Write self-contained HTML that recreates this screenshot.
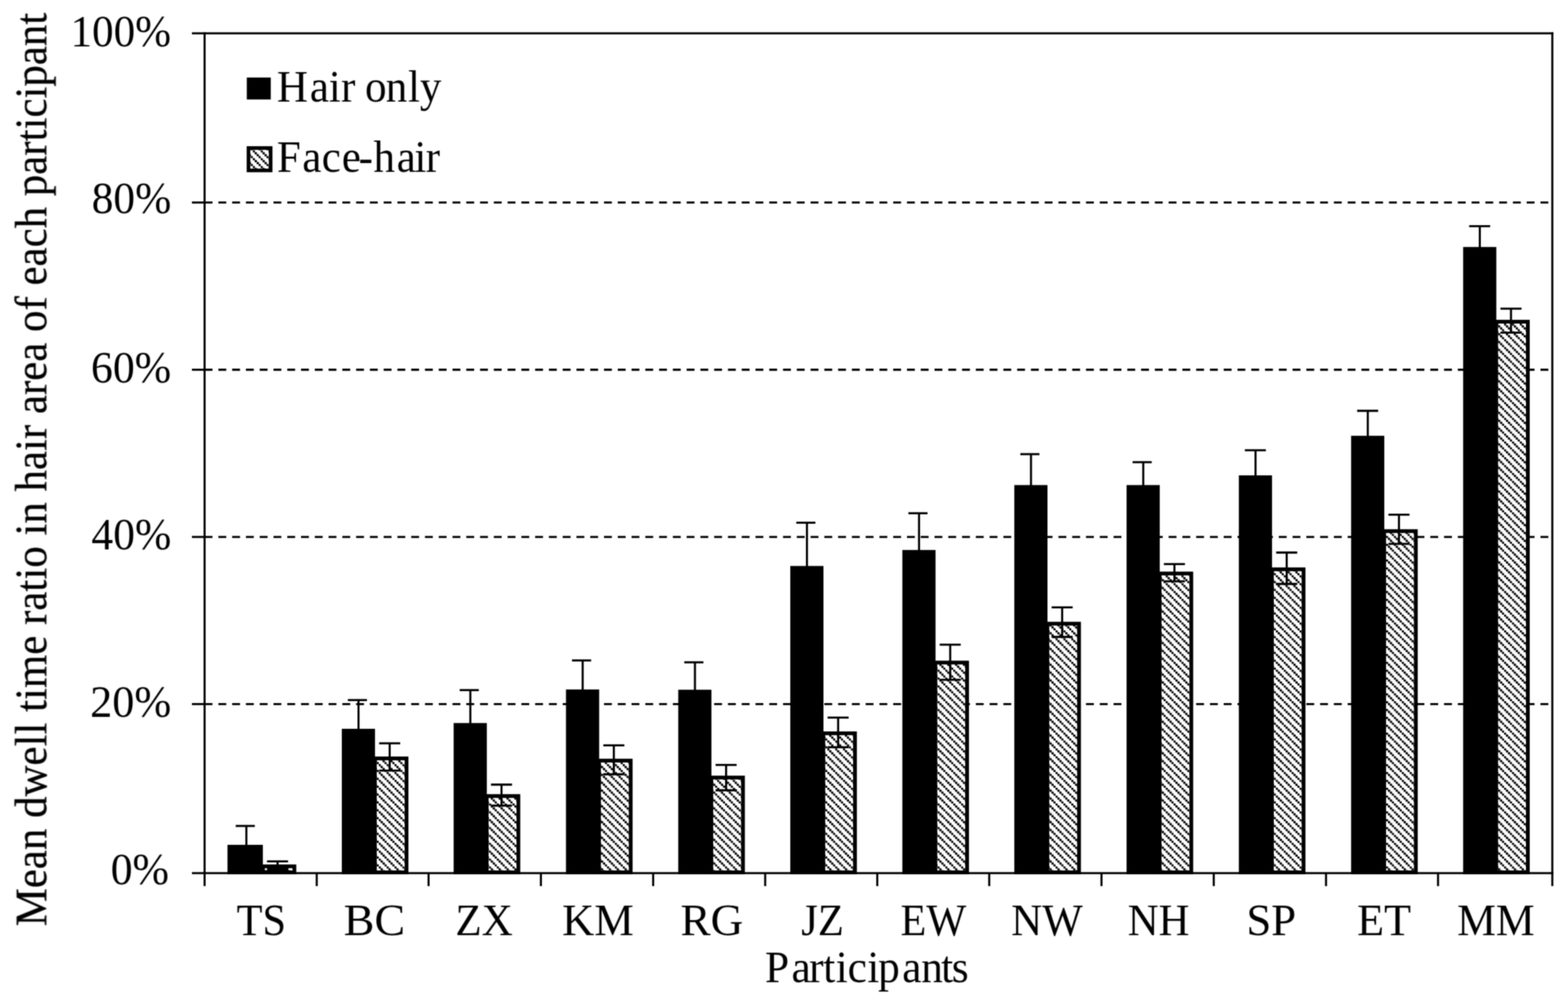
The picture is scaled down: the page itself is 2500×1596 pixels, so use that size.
<!DOCTYPE html>
<html lang="en">
<head>
<meta charset="utf-8">
<title>Mean dwell time ratio in hair area of each participant</title>
<style>
html,body{margin:0;padding:0;background:#fff;}
body{width:2500px;height:1596px;}
svg{display:block;}
</style>
</head>
<body>
<svg width="2500" height="1596" viewBox="0 0 2500 1596" font-family="'Liberation Serif', 'DejaVu Serif', serif" font-size="72" fill="#000">
<defs>
<pattern id="hatch" patternUnits="userSpaceOnUse" width="12.547" height="12.547" x="1.653" y="1.293"><rect width="12.547" height="12.547" fill="#fff"/><g fill="#000"><rect x="-3.318" y="-3.318" width="3.5" height="3.5"/><rect x="-0.182" y="-0.182" width="3.5" height="3.5"/><rect x="2.955" y="2.955" width="3.5" height="3.5"/><rect x="6.092" y="6.092" width="3.5" height="3.5"/><rect x="9.229" y="9.229" width="3.5" height="3.5"/><rect x="12.365" y="12.365" width="3.5" height="3.5"/></g></pattern>
<filter id="soft" filterUnits="userSpaceOnUse" x="0" y="0" width="2500" height="1596" color-interpolation-filters="sRGB"><feConvolveMatrix order="3" kernelMatrix="0.0625 0.1250 0.0625 0.1250 0.2500 0.1250 0.0625 0.1250 0.0625" edgeMode="duplicate" preserveAlpha="false"/></filter>
<filter id="softt" filterUnits="userSpaceOnUse" x="0" y="0" width="2500" height="1596" color-interpolation-filters="sRGB"><feConvolveMatrix order="5" kernelMatrix="0.00090 0.00660 0.01500 0.00660 0.00090 0.00660 0.04840 0.11000 0.04840 0.00660 0.01500 0.11000 0.25000 0.11000 0.01500 0.00660 0.04840 0.11000 0.04840 0.00660 0.00090 0.00660 0.01500 0.00660 0.00090" edgeMode="none" preserveAlpha="false"/></filter>
</defs>
<rect width="2500" height="1596" fill="#fff"/>
<g filter="url(#soft)">
<rect width="2500" height="1596" fill="#fff"/>
<g id="grid">
<line x1="326.25" y1="322.90" x2="2475.00" y2="322.90" stroke="#000" stroke-width="3.3" stroke-dasharray="12.55 9.407"/>
<line x1="326.25" y1="589.50" x2="2475.00" y2="589.50" stroke="#000" stroke-width="3.3" stroke-dasharray="12.55 9.407"/>
<line x1="326.25" y1="856.10" x2="2475.00" y2="856.10" stroke="#000" stroke-width="3.3" stroke-dasharray="12.55 9.407"/>
<line x1="326.25" y1="1122.60" x2="2475.00" y2="1122.60" stroke="#000" stroke-width="3.3" stroke-dasharray="12.55 9.407"/>
</g>
<g id="bars">
<rect x="418.90" y="1381.30" width="50.50" height="9.55" fill="url(#hatch)" stroke="#000" stroke-width="6.0"/>
<rect x="362.70" y="1347.00" width="56.40" height="46.85" fill="#000"/>
<rect x="597.70" y="1209.20" width="50.50" height="181.65" fill="url(#hatch)" stroke="#000" stroke-width="6.0"/>
<rect x="545.00" y="1162.00" width="52.90" height="231.85" fill="#000"/>
<rect x="776.00" y="1269.20" width="50.50" height="121.65" fill="url(#hatch)" stroke="#000" stroke-width="6.0"/>
<rect x="723.30" y="1152.80" width="52.90" height="241.05" fill="#000"/>
<rect x="955.10" y="1212.70" width="50.50" height="178.15" fill="url(#hatch)" stroke="#000" stroke-width="6.0"/>
<rect x="902.40" y="1099.30" width="52.90" height="294.55" fill="#000"/>
<rect x="1134.10" y="1239.70" width="50.50" height="151.15" fill="url(#hatch)" stroke="#000" stroke-width="6.0"/>
<rect x="1081.40" y="1099.70" width="52.90" height="294.15" fill="#000"/>
<rect x="1312.70" y="1169.20" width="50.50" height="221.65" fill="url(#hatch)" stroke="#000" stroke-width="6.0"/>
<rect x="1260.00" y="902.40" width="52.90" height="491.45" fill="#000"/>
<rect x="1491.40" y="1056.40" width="50.50" height="334.45" fill="url(#hatch)" stroke="#000" stroke-width="6.0"/>
<rect x="1438.70" y="876.90" width="52.90" height="516.95" fill="#000"/>
<rect x="1669.90" y="994.40" width="50.50" height="396.45" fill="url(#hatch)" stroke="#000" stroke-width="6.0"/>
<rect x="1617.20" y="773.40" width="52.90" height="620.45" fill="#000"/>
<rect x="1848.90" y="914.40" width="50.50" height="476.45" fill="url(#hatch)" stroke="#000" stroke-width="6.0"/>
<rect x="1796.20" y="773.40" width="52.90" height="620.45" fill="#000"/>
<rect x="2027.90" y="907.70" width="50.50" height="483.15" fill="url(#hatch)" stroke="#000" stroke-width="6.0"/>
<rect x="1975.20" y="757.90" width="52.90" height="635.95" fill="#000"/>
<rect x="2206.90" y="846.80" width="50.50" height="544.05" fill="url(#hatch)" stroke="#000" stroke-width="6.0"/>
<rect x="2154.20" y="694.80" width="52.90" height="699.05" fill="#000"/>
<rect x="2385.50" y="512.90" width="50.50" height="877.95" fill="url(#hatch)" stroke="#000" stroke-width="6.0"/>
<rect x="2332.80" y="393.80" width="52.90" height="1000.05" fill="#000"/>
</g>
<g id="err">
<line x1="392.80" y1="1316.90" x2="392.80" y2="1349.00" stroke="#000" stroke-width="3.3" />
<line x1="375.80" y1="1316.90" x2="406.30" y2="1316.90" stroke="#000" stroke-width="3.3" />
<line x1="442.50" y1="1373.30" x2="442.50" y2="1386.00" stroke="#000" stroke-width="3.3" />
<line x1="425.70" y1="1373.30" x2="459.30" y2="1373.30" stroke="#000" stroke-width="3.3" />
<line x1="425.70" y1="1386.00" x2="459.30" y2="1386.00" stroke="#000" stroke-width="5.5" />
<line x1="571.60" y1="1116.20" x2="571.60" y2="1164.00" stroke="#000" stroke-width="3.3" />
<line x1="554.60" y1="1116.20" x2="585.10" y2="1116.20" stroke="#000" stroke-width="3.3" />
<line x1="621.30" y1="1185.20" x2="621.30" y2="1228.60" stroke="#000" stroke-width="3.3" />
<line x1="604.50" y1="1185.20" x2="638.10" y2="1185.20" stroke="#000" stroke-width="3.3" />
<line x1="604.50" y1="1228.60" x2="638.10" y2="1228.60" stroke="#000" stroke-width="3.3" />
<line x1="749.90" y1="1100.30" x2="749.90" y2="1154.80" stroke="#000" stroke-width="3.3" />
<line x1="732.90" y1="1100.30" x2="763.40" y2="1100.30" stroke="#000" stroke-width="3.3" />
<line x1="799.60" y1="1251.00" x2="799.60" y2="1284.50" stroke="#000" stroke-width="3.3" />
<line x1="782.80" y1="1251.00" x2="816.40" y2="1251.00" stroke="#000" stroke-width="3.3" />
<line x1="782.80" y1="1284.50" x2="816.40" y2="1284.50" stroke="#000" stroke-width="3.3" />
<line x1="929.00" y1="1053.00" x2="929.00" y2="1101.30" stroke="#000" stroke-width="3.3" />
<line x1="912.00" y1="1053.00" x2="942.50" y2="1053.00" stroke="#000" stroke-width="3.3" />
<line x1="978.70" y1="1188.40" x2="978.70" y2="1234.50" stroke="#000" stroke-width="3.3" />
<line x1="961.90" y1="1188.40" x2="995.50" y2="1188.40" stroke="#000" stroke-width="3.3" />
<line x1="961.90" y1="1234.50" x2="995.50" y2="1234.50" stroke="#000" stroke-width="3.3" />
<line x1="1108.00" y1="1056.00" x2="1108.00" y2="1101.70" stroke="#000" stroke-width="3.3" />
<line x1="1091.00" y1="1056.00" x2="1121.50" y2="1056.00" stroke="#000" stroke-width="3.3" />
<line x1="1157.70" y1="1219.60" x2="1157.70" y2="1260.00" stroke="#000" stroke-width="3.3" />
<line x1="1140.90" y1="1219.60" x2="1174.50" y2="1219.60" stroke="#000" stroke-width="3.3" />
<line x1="1140.90" y1="1260.00" x2="1174.50" y2="1260.00" stroke="#000" stroke-width="3.3" />
<line x1="1286.60" y1="833.40" x2="1286.60" y2="904.40" stroke="#000" stroke-width="3.3" />
<line x1="1269.60" y1="833.40" x2="1300.10" y2="833.40" stroke="#000" stroke-width="3.3" />
<line x1="1336.30" y1="1144.10" x2="1336.30" y2="1191.40" stroke="#000" stroke-width="3.3" />
<line x1="1319.50" y1="1144.10" x2="1353.10" y2="1144.10" stroke="#000" stroke-width="3.3" />
<line x1="1319.50" y1="1191.40" x2="1353.10" y2="1191.40" stroke="#000" stroke-width="3.3" />
<line x1="1465.30" y1="818.30" x2="1465.30" y2="878.90" stroke="#000" stroke-width="3.3" />
<line x1="1448.30" y1="818.30" x2="1478.80" y2="818.30" stroke="#000" stroke-width="3.3" />
<line x1="1515.00" y1="1027.90" x2="1515.00" y2="1083.80" stroke="#000" stroke-width="3.3" />
<line x1="1498.20" y1="1027.90" x2="1531.80" y2="1027.90" stroke="#000" stroke-width="3.3" />
<line x1="1498.20" y1="1083.80" x2="1531.80" y2="1083.80" stroke="#000" stroke-width="3.3" />
<line x1="1643.80" y1="724.10" x2="1643.80" y2="775.40" stroke="#000" stroke-width="3.3" />
<line x1="1626.80" y1="724.10" x2="1657.30" y2="724.10" stroke="#000" stroke-width="3.3" />
<line x1="1693.50" y1="968.30" x2="1693.50" y2="1015.50" stroke="#000" stroke-width="3.3" />
<line x1="1676.70" y1="968.30" x2="1710.30" y2="968.30" stroke="#000" stroke-width="3.3" />
<line x1="1676.70" y1="1015.50" x2="1710.30" y2="1015.50" stroke="#000" stroke-width="3.3" />
<line x1="1822.80" y1="736.90" x2="1822.80" y2="775.40" stroke="#000" stroke-width="3.3" />
<line x1="1805.80" y1="736.90" x2="1836.30" y2="736.90" stroke="#000" stroke-width="3.3" />
<line x1="1872.50" y1="899.30" x2="1872.50" y2="926.90" stroke="#000" stroke-width="3.3" />
<line x1="1855.70" y1="899.30" x2="1889.30" y2="899.30" stroke="#000" stroke-width="3.3" />
<line x1="1855.70" y1="926.90" x2="1889.30" y2="926.90" stroke="#000" stroke-width="3.3" />
<line x1="2001.80" y1="717.90" x2="2001.80" y2="759.90" stroke="#000" stroke-width="3.3" />
<line x1="1984.80" y1="717.90" x2="2018.30" y2="717.90" stroke="#000" stroke-width="3.3" />
<line x1="2051.50" y1="881.00" x2="2051.50" y2="931.00" stroke="#000" stroke-width="3.3" />
<line x1="2034.70" y1="881.00" x2="2068.30" y2="881.00" stroke="#000" stroke-width="3.3" />
<line x1="2034.70" y1="931.00" x2="2068.30" y2="931.00" stroke="#000" stroke-width="3.3" />
<line x1="2180.80" y1="655.00" x2="2180.80" y2="696.80" stroke="#000" stroke-width="3.3" />
<line x1="2163.80" y1="655.00" x2="2197.30" y2="655.00" stroke="#000" stroke-width="3.3" />
<line x1="2230.50" y1="820.70" x2="2230.50" y2="867.20" stroke="#000" stroke-width="3.3" />
<line x1="2213.70" y1="820.70" x2="2247.30" y2="820.70" stroke="#000" stroke-width="3.3" />
<line x1="2213.70" y1="867.20" x2="2247.30" y2="867.20" stroke="#000" stroke-width="3.3" />
<line x1="2359.40" y1="360.70" x2="2359.40" y2="395.80" stroke="#000" stroke-width="3.3" />
<line x1="2342.40" y1="360.70" x2="2375.90" y2="360.70" stroke="#000" stroke-width="3.3" />
<line x1="2409.10" y1="492.20" x2="2409.10" y2="530.40" stroke="#000" stroke-width="3.3" />
<line x1="2392.30" y1="492.20" x2="2425.90" y2="492.20" stroke="#000" stroke-width="3.3" />
<line x1="2392.30" y1="530.40" x2="2425.90" y2="530.40" stroke="#000" stroke-width="3.3" />
</g>
<g id="axes">
<line x1="306.00" y1="53.20" x2="2476.65" y2="53.20" stroke="#000" stroke-width="3.3" />
<line x1="306.00" y1="1392.20" x2="2476.65" y2="1392.20" stroke="#000" stroke-width="3.3" />
<line x1="326.20" y1="51.55" x2="326.20" y2="1412.80" stroke="#000" stroke-width="3.3" />
<line x1="2475.00" y1="51.55" x2="2475.00" y2="1412.80" stroke="#000" stroke-width="3.3" />
<line x1="306.00" y1="322.90" x2="326.20" y2="322.90" stroke="#000" stroke-width="3.3" />
<line x1="306.00" y1="589.50" x2="326.20" y2="589.50" stroke="#000" stroke-width="3.3" />
<line x1="306.00" y1="856.10" x2="326.20" y2="856.10" stroke="#000" stroke-width="3.3" />
<line x1="306.00" y1="1122.60" x2="326.20" y2="1122.60" stroke="#000" stroke-width="3.3" />
<line x1="505.00" y1="1392.20" x2="505.00" y2="1412.80" stroke="#000" stroke-width="3.3" />
<line x1="683.30" y1="1392.20" x2="683.30" y2="1412.80" stroke="#000" stroke-width="3.3" />
<line x1="862.40" y1="1392.20" x2="862.40" y2="1412.80" stroke="#000" stroke-width="3.3" />
<line x1="1041.40" y1="1392.20" x2="1041.40" y2="1412.80" stroke="#000" stroke-width="3.3" />
<line x1="1220.00" y1="1392.20" x2="1220.00" y2="1412.80" stroke="#000" stroke-width="3.3" />
<line x1="1398.70" y1="1392.20" x2="1398.70" y2="1412.80" stroke="#000" stroke-width="3.3" />
<line x1="1577.20" y1="1392.20" x2="1577.20" y2="1412.80" stroke="#000" stroke-width="3.3" />
<line x1="1756.20" y1="1392.20" x2="1756.20" y2="1412.80" stroke="#000" stroke-width="3.3" />
<line x1="1935.20" y1="1392.20" x2="1935.20" y2="1412.80" stroke="#000" stroke-width="3.3" />
<line x1="2114.20" y1="1392.20" x2="2114.20" y2="1412.80" stroke="#000" stroke-width="3.3" />
<line x1="2292.80" y1="1392.20" x2="2292.80" y2="1412.80" stroke="#000" stroke-width="3.3" />
</g>
<g id="legend">
<rect x="393.5" y="123.6" width="38.2" height="35.0" fill="#000"/>
<rect x="396.2" y="236.0" width="35.3" height="35.7" fill="url(#hatch)" stroke="#000" stroke-width="5.8"/>
</g>
</g>
<g id="labels" filter="url(#softt)">
<text transform="translate(112.59 73.50) scale(0.9522 1)">100%</text>
<text transform="translate(146.32 340.40) scale(0.9595 1)">80%</text>
<text transform="translate(145.09 610.40) scale(0.9690 1)">60%</text>
<text transform="translate(145.74 876.00) scale(0.9641 1)">40%</text>
<text transform="translate(143.76 1142.90) scale(0.9794 1)">20%</text>
<text transform="translate(176.49 1409.60) scale(0.9689 1)">0%</text>
<text transform="translate(377.36 1490.80) scale(0.9380 1)">TS</text>
<text transform="translate(547.96 1490.80) scale(1.0200 1)">BC</text>
<text transform="translate(726.03 1490.80) scale(0.9554 1)">ZX</text>
<text transform="translate(896.33 1490.80) scale(0.9839 1)">KM</text>
<text transform="translate(1085.00 1490.80) scale(1.0000 1)">RG</text>
<text transform="translate(1277.51 1490.80) scale(0.9439 1)">JZ</text>
<text transform="translate(1435.83 1490.80) scale(0.9355 1)">EW</text>
<text transform="translate(1612.30 1490.80) scale(0.9500 1)">NW</text>
<text transform="translate(1797.91 1490.80) scale(0.9470 1)">NH</text>
<text transform="translate(1987.14 1490.80) scale(0.9917 1)">SP</text>
<text transform="translate(2163.74 1490.80) scale(0.9776 1)">ET</text>
<text transform="translate(2323.27 1490.80) scale(0.9661 1)">MM</text>
<text transform="translate(441.39 161.80) scale(0.9537 1)" dx="0.00 3.25 -0.21 0.21 -0.84 -0.84 -1.57 1.26 0.00">Hair only</text>
<text transform="translate(441.60 274.40) scale(0.9509 1)" dx="0.00 2.31 0.74 1.79 -3.79 0.95 2.84 -2.21 -1.05">Face-hair</text>
<text transform="translate(1219.68 1565.80) scale(0.9594 1)" dx="0.00 4.07 -2.81 -0.52 0.83 -0.31 0.73 -1.98 4.17 -0.42 -3.02 -2.29">Participants</text>
<text transform="translate(73.70 1476.90) rotate(-90) scale(0.9500 1)" stroke="#000" stroke-width="0.4">Mean dwell time ratio in hair area of each participant</text>
</g>
</svg>
</body>
</html>
